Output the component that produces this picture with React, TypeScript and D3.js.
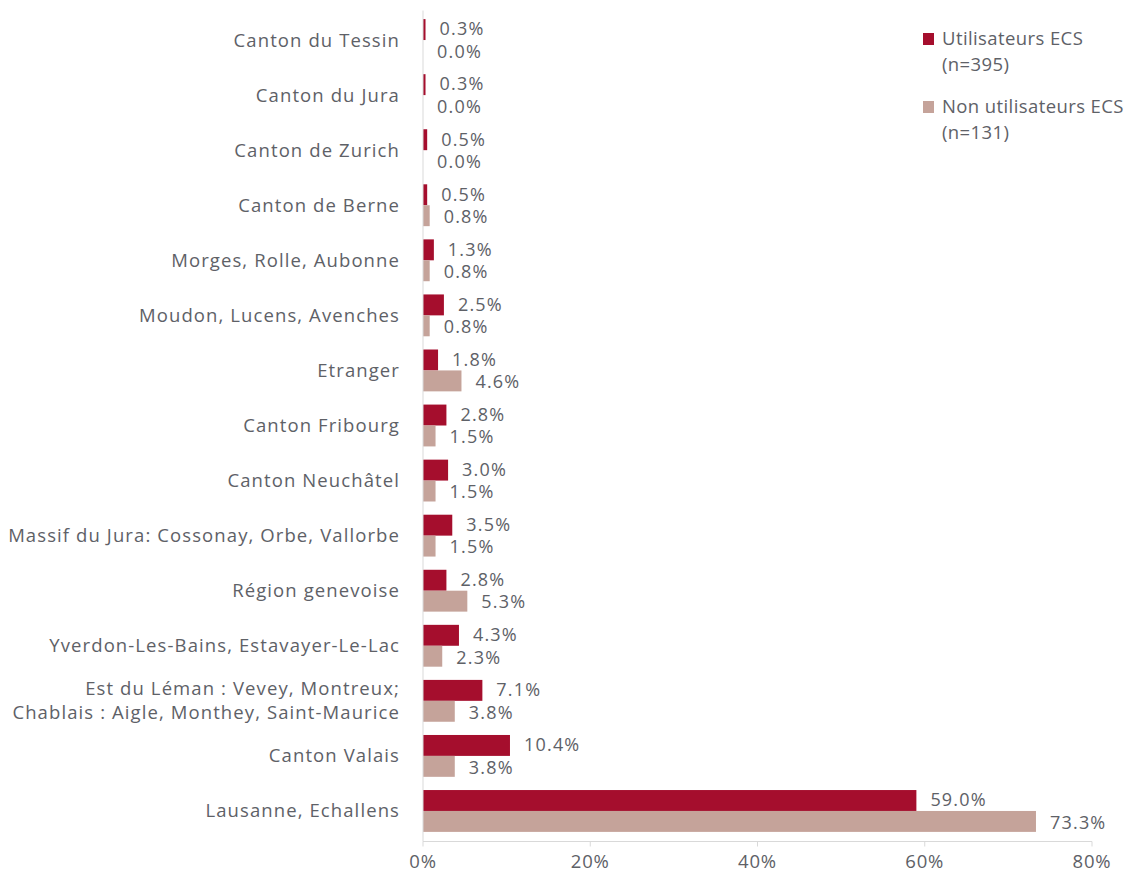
import React from "react";
import * as d3 from "d3";

const categories = [
  "Canton du Tessin",
  "Canton du Jura",
  "Canton de Zurich",
  "Canton de Berne",
  "Morges, Rolle, Aubonne",
  "Moudon, Lucens, Avenches",
  "Etranger",
  "Canton Fribourg",
  "Canton Neuchâtel",
  "Massif du Jura: Cossonay, Orbe, Vallorbe",
  "Région genevoise",
  "Yverdon-Les-Bains, Estavayer-Le-Lac",
  "Est du Léman : Vevey, Montreux;\nChablais : Aigle, Monthey, Saint-Maurice",
  "Canton Valais",
  "Lausanne, Echallens",
];
const utilisateurs = [0.3, 0.3, 0.5, 0.5, 1.3, 2.5, 1.8, 2.8, 3.0, 3.5, 2.8, 4.3, 7.1, 10.4, 59.0];
const nonUtilisateurs = [0.0, 0.0, 0.0, 0.8, 0.8, 0.8, 4.6, 1.5, 1.5, 1.5, 5.3, 2.3, 3.8, 3.8, 73.3];
const xTicks = [0, 20, 40, 60, 80];
const seriesNames = [["Utilisateurs ECS", "(n=395)"], ["Non utilisateurs ECS", "(n=131)"]];

const RED = "#A50E2D";
const PINK = "#C5A39A";
const TEXT = "#5E6167";
const FONT = "'Open Sans', Lato, sans-serif";

export default function App() {
  const W = 1137, H = 877;
  const x0 = 423, x1 = 1092;
  const top = 12.5, bottom = 838.5;
  const x = d3.scaleLinear().domain([0, 80]).range([x0, x1]);
  const y = d3.scaleBand().domain(categories).range([top, bottom]).paddingInner(0.24).paddingOuter(0.12);
  const bw = y.bandwidth() / 2;
  const series = [utilisateurs, nonUtilisateurs];
  const colors = [RED, PINK];
  const fs = 18.5;

  return (
    <svg width={W} height={H} style={{ position: "absolute", left: 0, top: 0, background: "#fff" }} fontFamily={FONT}>
      {categories.map((c, i) => {
        const yb = y(c)!;
        const cy = yb + y.bandwidth() / 2;
        const lines = c.split("\n");
        return (
          <g key={c}>
            {series.map((s, k) => (
              <g key={k}>
                <rect x={x(0)} y={yb + k * bw} width={Math.max(0, x(s[i]) - x(0))} height={bw} fill={colors[k]} />
                <text x={x(s[i]) + 14} y={yb + k * bw + bw / 2 + (k === 0 ? -0.5 : 1)} dy="0.35em" fontSize={18} letterSpacing={1.2} fill={TEXT}>
                  {s[i].toFixed(1) + "%"}
                </text>
              </g>
            ))}
            <text x={400} y={cy} textAnchor="end" fontSize={fs} letterSpacing={1.1} fill={TEXT}>
              {lines.map((l, j) => (
                <tspan key={j} x={400} dy={j === 0 ? `${0.35 - (lines.length - 1) * 0.65}em` : "1.3em"}>{l}</tspan>
              ))}
            </text>
          </g>
        );
      })}
      <line x1={x0} x2={x0} y1={top - 2} y2={bottom + 3} stroke="#D9D9D9" />
      <line x1={x0} x2={x1} y1={bottom + 3} y2={bottom + 3} stroke="#D9D9D9" />
      {xTicks.map((t) => (
        <g key={t}>
          <line x1={x(t)} x2={x(t)} y1={bottom + 3} y2={bottom + 8} stroke="#D9D9D9" />
          <text x={x(t)} y={862} dy="0.35em" textAnchor="middle" fontSize={fs} letterSpacing={0.8} fill={TEXT}>{t + "%"}</text>
        </g>
      ))}
      {seriesNames.map((n, k) => (
        <g key={k} transform={`translate(923, ${33 + k * 68})`}>
          <rect x={0} y={0} width={11} height={12} fill={colors[k]} />
          <text x={19} y={6} dy="0.35em" fontSize={fs} letterSpacing={0.4} fill={TEXT}>{n[0]}</text>
          <text x={19} y={32} dy="0.35em" fontSize={fs} letterSpacing={0.4} fill={TEXT}>{n[1]}</text>
        </g>
      ))}
    </svg>
  );
}
